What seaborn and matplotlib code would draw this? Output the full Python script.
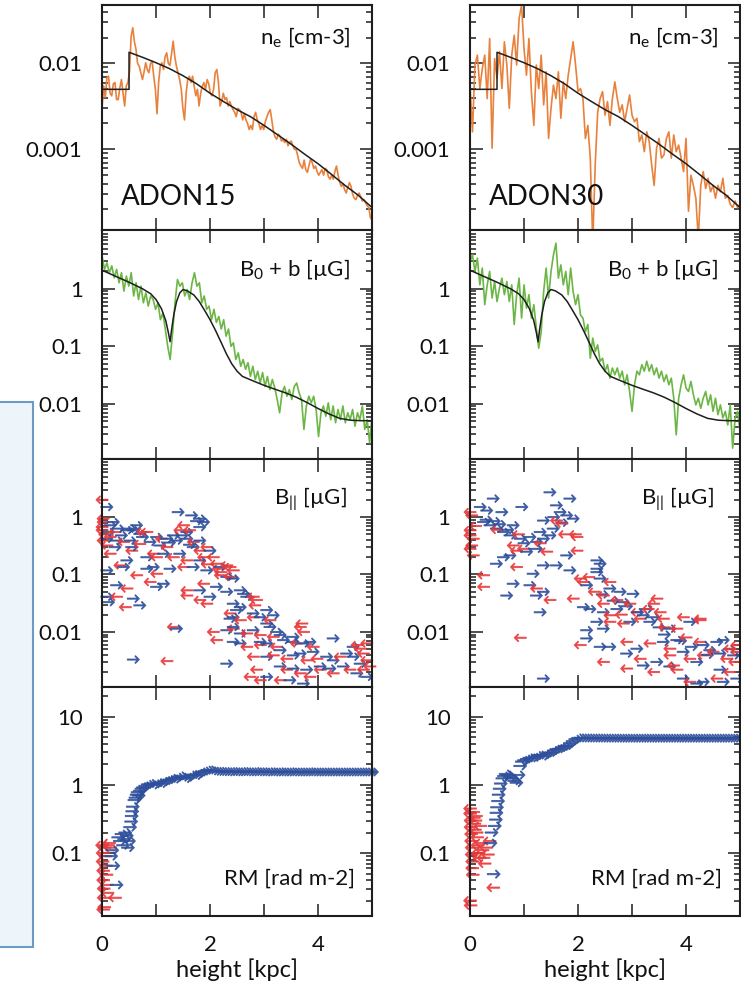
import numpy as np
import pandas as pd
import matplotlib
matplotlib.use("Agg")
import matplotlib.pyplot as plt
import seaborn as sns
from matplotlib.patches import Rectangle
from matplotlib.ticker import FixedLocator, FixedFormatter, LogLocator, NullFormatter, NullLocator

sns.set_theme(style="ticks")
plt.rcParams["font.family"] = ["Lato", "DejaVu Sans"]
plt.rcParams["mathtext.fontset"] = "custom"
plt.rcParams["mathtext.rm"] = "Lato"
plt.rcParams["mathtext.it"] = "Lato:italic"
plt.rcParams["mathtext.bf"] = "Lato:bold"

# ---------------------------------------------------------------- data
models = ["ADON15", "ADON30"]

# electron density along the height grid (cm^-3)
ne15 = [0.0030, 0.0055, 0.0040, 0.0068, 0.0071, 0.0045, 0.0042, 0.0058, 0.0060, 0.0038,
        0.0038, 0.0052, 0.0065, 0.0045, 0.0032, 0.0055, 0.0060, 0.0080, 0.0208, 0.0260,
        0.0180, 0.0146, 0.0100, 0.0093, 0.0078, 0.0065, 0.0080, 0.0102, 0.0085, 0.0078,
        0.0100, 0.0106, 0.0070, 0.0050, 0.0026, 0.0060, 0.0093, 0.0102, 0.0085, 0.0120,
        0.0133, 0.0100, 0.0095, 0.0130, 0.0182, 0.0120, 0.0093, 0.0078, 0.0065, 0.0050,
        0.0030, 0.0022, 0.0045, 0.0065, 0.0071, 0.0060, 0.0071, 0.0054, 0.0042, 0.0050,
        0.0032, 0.0045, 0.0054, 0.0060, 0.0050, 0.0065, 0.0058, 0.0045, 0.0042, 0.0050,
        0.0078, 0.0085, 0.0060, 0.0032, 0.0036, 0.0045, 0.0038, 0.0040, 0.0032, 0.0036,
        0.0032, 0.0029, 0.0027, 0.0024, 0.0030, 0.0029, 0.0027, 0.0022, 0.0026, 0.0022,
        0.0020, 0.0017, 0.0019, 0.0017, 0.0024, 0.0027, 0.0022, 0.0020, 0.0017, 0.0019,
        0.0017, 0.0021, 0.0024, 0.0027, 0.0029, 0.0022, 0.0016, 0.0014, 0.00131, 0.0015,
        0.00143, 0.00125, 0.0013, 0.0012, 0.00131, 0.00110, 0.0012, 0.00125, 0.0011, 0.0010,
        0.0010, 0.00085, 0.00070, 0.00064, 0.00060, 0.00075, 0.00058, 0.00054, 0.00065, 0.00077,
        0.00070, 0.00060, 0.00064, 0.00055, 0.00050, 0.00054, 0.00058, 0.00050, 0.00060, 0.00058,
        0.00048, 0.00045, 0.00050, 0.00045, 0.00055, 0.00064, 0.00050, 0.00041, 0.00037, 0.00040,
        0.00034, 0.00031, 0.00036, 0.00041, 0.00037, 0.00030, 0.00027, 0.00026, 0.00029, 0.00031,
        0.00028, 0.00025, 0.00026, 0.00024, 0.00022, 0.00021, 0.00016, 0.00015]

ne30 = [0.0056, 0.0016, 0.0096, 0.0125, 0.0051, 0.0087, 0.0125, 0.0039, 0.0195, 0.00103,
        0.0114, 0.0067, 0.0137, 0.0051, 0.0179, 0.0096, 0.0030, 0.0125, 0.0213, 0.0096,
        0.0334, 0.048, 0.0149, 0.0073, 0.0195, 0.0047, 0.0019, 0.0096, 0.0051, 0.0125,
        0.0033, 0.0080, 0.00134, 0.0030, 0.0056, 0.0039, 0.0080, 0.0023, 0.0061, 0.0039,
        0.0073, 0.0114, 0.0179, 0.0096, 0.0047, 0.0051, 0.0039, 0.00134, 0.0019, 0.00079,
        0.00008, 0.00066, 0.0027, 0.0039, 0.0047, 0.0025, 0.0036, 0.0019, 0.0039, 0.0061,
        0.0039, 0.0027, 0.0033, 0.0021, 0.0030, 0.0043, 0.0025, 0.0021, 0.0023, 0.00123,
        0.00147, 0.00094, 0.0016, 0.00123, 0.00066, 0.00038, 0.00103, 0.00134, 0.00079, 0.00086,
        0.00134, 0.0016, 0.00079, 0.00147, 0.00094, 0.00112, 0.00079, 0.00055, 0.00134, 0.00019,
        0.00050, 0.00038, 0.00027, 0.00009, 0.00038, 0.00055, 0.00035, 0.00046, 0.00032, 0.00038,
        0.00027, 0.00038, 0.00032, 0.00046, 0.00027, 0.00029, 0.00023, 0.00021, 0.00025, 0.00021,
        0.00023]

# smooth background density profile
ne_model_h = [0.0, 0.5, 0.5, 0.75, 1.0, 1.25, 1.5, 1.75, 2.0, 2.25, 2.5, 2.75, 3.0, 3.25,
              3.5, 3.75, 4.0, 4.25, 4.5, 4.75, 5.0]
ne_model = [0.005, 0.005, 0.0135, 0.0118, 0.0102, 0.0087, 0.0072, 0.0058, 0.0045, 0.0036,
            0.0029, 0.0024, 0.0019, 0.00148, 0.00115, 0.00088, 0.00068, 0.00051, 0.00038,
            0.00029, 0.00021]

# total field strength |B0 + b| (muG)
b15 = [3.7, 2.17, 2.83, 1.9, 2.5, 1.55, 2.17, 1.27, 1.9, 0.91, 1.66, 1.11, 1.9, 0.75, 1.27,
       0.65, 1.11, 0.57, 0.85, 0.50, 0.75, 0.65, 0.44, 0.57, 0.29, 0.38, 0.20, 0.10, 0.059, 0.17,
       0.57, 1.45, 1.11, 1.27, 0.75, 0.97, 0.65, 1.27, 1.9, 1.11, 1.27, 0.57, 0.75, 0.44, 0.50,
       0.29, 0.44, 0.26, 0.33, 0.20, 0.29, 0.15, 0.20, 0.10, 0.115, 0.059, 0.077, 0.045, 0.059,
       0.040, 0.052, 0.030, 0.045, 0.0265, 0.037, 0.023, 0.035, 0.020, 0.030, 0.0177, 0.0265,
       0.019, 0.0119, 0.0070, 0.0156, 0.020, 0.0136, 0.0177, 0.0119, 0.020, 0.023, 0.0156,
       0.0119, 0.0036, 0.0092, 0.0136, 0.0104, 0.0136, 0.0080, 0.0027, 0.0070, 0.0092, 0.0061,
       0.0104, 0.0053, 0.0092, 0.0047, 0.0080, 0.0053, 0.0092, 0.0047, 0.0070, 0.0053, 0.0080,
       0.0041, 0.0070, 0.0053, 0.0092, 0.0036, 0.0053, 0.0021, 0.0061]

b30 = [3.0, 3.9, 2.0, 3.4, 1.17, 2.29, 0.53, 1.17, 2.0, 0.69, 1.34, 0.60, 1.03, 1.53, 0.79,
       1.34, 0.60, 1.17, 0.24, 0.79, 1.53, 0.31, 1.17, 0.46, 0.79, 0.31, 0.53, 0.21, 0.093, 0.18,
       0.90, 2.29, 0.69, 2.0, 3.9, 6.2, 1.53, 2.6, 1.17, 2.0, 0.79, 2.29, 0.90, 0.53, 0.79,
       0.35, 0.31, 0.18, 0.24, 0.062, 0.139, 0.081, 0.106, 0.055, 0.062, 0.037, 0.048, 0.028,
       0.042, 0.032, 0.042, 0.028, 0.037, 0.0214, 0.032, 0.0164, 0.0074, 0.0214, 0.037, 0.032,
       0.048, 0.037, 0.055, 0.037, 0.048, 0.032, 0.042, 0.028, 0.037, 0.0245, 0.032, 0.0214,
       0.028, 0.0125, 0.0029, 0.0125, 0.0214, 0.032, 0.0188, 0.0164, 0.0245, 0.0144, 0.0096,
       0.0125, 0.0084, 0.0125, 0.0164, 0.0096, 0.0144, 0.0074, 0.0125, 0.0065, 0.0096, 0.0057,
       0.0074, 0.0043, 0.0096, 0.0017, 0.0057, 0.0074, 0.0033]

# smooth background field profile
b_model_h = [0.0, 0.25, 0.5, 0.75, 0.9, 1.0, 1.1, 1.18, 1.23, 1.26, 1.29, 1.33, 1.38, 1.44,
             1.5, 1.58, 1.7, 1.8, 1.9, 2.0, 2.1, 2.2, 2.3, 2.4, 2.5, 2.6, 2.8, 3.0, 3.2, 3.4,
             3.6, 3.8, 4.0, 4.2, 4.4, 4.6, 4.8, 5.0]
b_model = [2.1, 1.65, 1.3, 1.0, 0.82, 0.65, 0.45, 0.28, 0.17, 0.12, 0.2, 0.36, 0.6, 0.85,
           0.97, 0.92, 0.78, 0.6, 0.42, 0.29, 0.19, 0.12, 0.075, 0.05, 0.037, 0.030, 0.025,
           0.021, 0.018, 0.0155, 0.013, 0.0105, 0.0083, 0.0067, 0.0056, 0.0052, 0.0051, 0.0051]

# line-of-sight field (height kpc, signed B_par muG)
bpar15 = [(0.00, -2.0), (0.02, -0.94), (0.02, -0.82), (0.00, -0.67), (0.00, -0.59), (0.24, -0.55),
          (0.40, -0.37), (0.70, -0.34), (0.83, -0.55), (1.20, -0.30), (1.44, -0.59), (1.51, -0.72),
          (1.69, -0.37), (1.94, -0.30), (1.81, -0.26), (0.09, -0.32), (0.02, -0.39), (0.15, -0.23),
          (0.95, -0.23), (1.01, -0.20), (1.32, -0.20), (1.57, -0.176), (2.12, -0.154), (2.31, -0.144),
          (2.37, -0.135), (2.43, -0.118), (2.06, -0.20), (0.33, -0.144), (0.64, -0.097), (1.01, -0.103),
          (1.51, -0.135), (2.19, -0.097), (2.37, -0.091), (0.46, -0.057), (0.89, -0.074), (1.57, -0.053),
          (1.88, -0.069), (0.27, -0.041), (0.43, -0.027), (1.57, -0.043), (1.81, -0.036), (1.94, -0.031),
          (2.80, -0.041), (2.86, -0.036), (2.83, -0.029), (2.37, -0.021), (2.56, -0.016), (2.80, -0.018),
          (3.11, -0.016), (1.32, -0.0122), (2.06, -0.010), (2.43, -0.0114), (2.68, -0.0094),
          (2.93, -0.0088), (3.17, -0.0082), (3.67, -0.0122), (3.73, -0.010), (3.70, -0.014),
          (2.12, -0.0072), (2.68, -0.0055), (2.93, -0.0059), (3.23, -0.0055), (3.60, -0.0063),
          (3.91, -0.0055), (4.72, -0.0059), (4.78, -0.0051), (4.90, -0.0063), (1.20, -0.0031),
          (2.80, -0.0037), (3.17, -0.0039), (3.42, -0.0034), (3.79, -0.0032), (3.98, -0.0034),
          (4.41, -0.0037), (4.84, -0.0042), (4.90, -0.0032), (3.42, -0.0022), (3.67, -0.0019),
          (3.85, -0.00165), (4.04, -0.0022), (4.28, -0.0019), (4.59, -0.0022), (4.84, -0.0022),
          (2.74, -0.00165), (2.93, -0.00144), (3.30, -0.00144), (2.86, -0.0022), (4.96, -0.0025),
          (0.05, -0.5), (0.15, -0.45), (0.55, -0.26), (0.75, -0.55), (1.10, -0.42), (1.62, -0.59),
          (1.88, -0.20), (1.95, -0.15), (2.15, -0.126), (2.20, -0.11),
          (0.09, 1.5), (0.21, 0.82), (0.64, 0.72), (0.15, 0.72), (0.30, 0.63), (0.46, 0.59),
          (0.58, 0.59), (0.70, 0.51), (1.01, 0.45), (1.32, 0.48), (1.57, 0.55), (1.81, 0.67),
          (1.88, 0.82), (1.41, 1.22), (1.66, 1.07), (1.81, 0.94), (0.09, 0.42), (0.27, 0.39),
          (0.52, 0.39), (0.89, 0.37), (1.07, 0.32), (1.38, 0.39), (1.57, 0.42), (1.81, 0.39),
          (2.00, 0.26), (1.69, 0.30), (0.24, 0.30), (0.83, 0.20), (1.14, 0.23), (1.44, 0.23),
          (1.81, 0.176), (2.19, 0.135), (0.46, 0.176), (0.09, 0.118), (0.40, 0.135), (0.83, 0.126),
          (0.95, 0.135), (1.26, 0.126), (1.69, 0.135), (1.94, 0.118), (2.31, 0.091), (2.43, 0.085),
          (0.27, 0.065), (1.01, 0.061), (1.14, 0.069), (1.81, 0.053), (2.12, 0.061), (2.56, 0.053),
          (2.62, 0.046), (0.09, 0.041), (0.12, 0.033), (0.58, 0.038), (0.70, 0.029), (2.00, 0.041),
          (2.56, 0.027), (2.43, 0.031), (2.68, 0.041), (2.31, 0.050), (2.49, 0.024), (2.43, 0.018),
          (2.80, 0.021), (3.05, 0.024), (2.93, 0.018), (3.17, 0.0195), (3.05, 0.014), (2.37, 0.017),
          (1.38, 0.0114), (2.31, 0.0107), (2.43, 0.0122), (2.56, 0.0094), (2.80, 0.0107),
          (3.11, 0.0122), (3.23, 0.010), (3.30, 0.0088), (3.54, 0.0082), (2.43, 0.0067),
          (2.56, 0.0063), (2.93, 0.0067), (3.05, 0.0063), (3.36, 0.0072), (3.54, 0.0067),
          (3.73, 0.0063), (3.85, 0.0067), (4.28, 0.0077), (4.65, 0.0055), (0.58, 0.0033),
          (2.31, 0.0028), (3.05, 0.0037), (3.30, 0.0048), (3.54, 0.0039), (3.67, 0.0042),
          (3.91, 0.0045), (4.16, 0.0037), (4.28, 0.0032), (4.53, 0.0042), (4.65, 0.0037),
          (4.78, 0.0028), (3.30, 0.0025), (3.54, 0.0023), (3.79, 0.0022), (4.04, 0.0025),
          (4.22, 0.0023), (4.47, 0.0025), (4.72, 0.0019), (4.90, 0.00165), (3.05, 0.00165),
          (3.48, 0.00144), (3.73, 0.00126), (0.12, 0.55), (0.36, 0.48), (0.52, 0.63), (0.75, 0.45),
          (0.55, 0.30), (1.20, 0.42), (1.48, 0.48), (1.62, 0.33), (1.75, 0.85), (1.25, 0.36)]

bpar30 = [(1.48, 2.7), (1.85, 2.1), (0.43, 2.1), (1.60, 1.6), (0.96, 1.5), (0.19, 1.5), (0.31, 1.3),
          (0.59, 1.22), (1.67, 1.22), (1.79, 1.07), (1.91, 0.94), (1.36, 0.87), (1.54, 0.63),
          (0.25, 0.82), (0.37, 0.72), (0.49, 0.63), (0.62, 0.55), (0.74, 0.48), (0.80, 0.72),
          (0.93, 0.42), (1.11, 0.45), (1.23, 0.37), (1.36, 0.42), (1.48, 0.48), (0.62, 0.20),
          (0.49, 0.154), (0.74, 0.215), (1.05, 0.25), (1.23, 0.28), (1.79, 0.215), (1.60, 0.144),
          (2.35, 0.176), (2.41, 0.154), (2.35, 0.126), (1.17, 0.103), (1.36, 0.144), (1.85, 0.118),
          (2.35, 0.11), (2.41, 0.085), (0.80, 0.069), (1.11, 0.065), (0.68, 0.043), (1.36, 0.050),
          (1.23, 0.043), (2.59, 0.057), (2.78, 0.050), (3.02, 0.046), (2.16, 0.065), (2.10, 0.027),
          (2.22, 0.025), (2.47, 0.022), (2.72, 0.025), (3.21, 0.0195), (3.27, 0.025), (2.84, 0.033),
          (1.30, 0.022), (2.35, 0.015), (2.47, 0.0114), (2.96, 0.015), (3.33, 0.015), (3.70, 0.0114),
          (4.07, 0.015), (2.16, 0.0107), (2.16, 0.0077), (2.41, 0.0055), (2.59, 0.0055), (3.09, 0.0051),
          (3.58, 0.0067), (3.83, 0.0072), (4.32, 0.0059), (4.57, 0.0067), (4.69, 0.0072), (2.90, 0.0042),
          (3.46, 0.0030), (3.95, 0.0045), (4.20, 0.0030), (4.44, 0.0048), (4.63, 0.0042), (4.88, 0.0039),
          (3.21, 0.0026), (3.70, 0.0025), (3.95, 0.00154), (4.20, 0.00126), (4.32, 0.00135),
          (4.63, 0.0022), (4.94, 0.00154), (1.36, 0.00154), (4.69, 0.00135), (0.30, 0.90), (0.45, 0.85),
          (0.55, 0.75), (0.70, 0.60), (1.00, 0.35), (1.30, 0.55), (1.55, 1.00), (1.70, 0.80),
          (2.45, 0.045), (2.65, 0.035), (2.90, 0.028), (3.10, 0.022), (3.40, 0.018), (3.50, 0.012),
          (3.60, 0.009), (3.90, 0.007), (4.10, 0.0055), (4.40, 0.004), (4.80, 0.005),
          (0.00, -1.22), (0.03, -1.07), (1.60, -0.87), (1.70, -0.77), (0.00, -0.59), (0.00, -0.48),
          (0.06, -0.42), (0.03, -0.32), (0.00, -0.28), (0.06, -0.215), (0.80, -0.32), (0.99, -0.28),
          (0.86, -0.26), (1.95, -0.50), (1.98, -0.45), (1.42, -0.25), (1.98, -0.26), (0.25, -0.097),
          (0.86, -0.135), (2.04, -0.085), (2.10, -0.074), (2.59, -0.074), (0.25, -0.061), (1.23, -0.057),
          (1.48, -0.036), (1.91, -0.038), (2.47, -0.043), (2.47, -0.031), (2.59, -0.0195), (2.96, -0.031),
          (3.09, -0.022), (3.46, -0.038), (3.40, -0.031), (3.52, -0.022), (2.72, -0.036), (2.59, -0.015),
          (2.84, -0.014), (3.15, -0.017), (3.58, -0.017), (3.83, -0.0114), (3.95, -0.018), (4.26, -0.017),
          (4.26, -0.016), (2.04, -0.0059), (2.90, -0.0067), (3.33, -0.0063), (3.70, -0.0051),
          (4.26, -0.0067), (4.81, -0.0051), (4.94, -0.0059), (0.93, -0.0079), (2.47, -0.0030),
          (3.15, -0.0034), (3.70, -0.0039), (4.07, -0.0034), (4.32, -0.0039), (4.75, -0.0034),
          (4.94, -0.0045), (2.90, -0.0023), (3.40, -0.0020), (3.83, -0.0022), (4.07, -0.00135),
          (4.57, -0.00154), (4.81, -0.0020), (3.77, -0.0026), (2.20, -0.09), (2.30, -0.05),
          (2.80, -0.02), (3.30, -0.025), (3.60, -0.012), (4.00, -0.008), (4.50, -0.0045),
          (4.90, -0.003), (0.10, -0.7), (0.50, -0.6), (0.90, -0.5), (1.30, -0.35), (1.75, -0.5)]

# cumulative rotation measure (height kpc, signed RM rad m^-2)
rm15 = [(0.00, -0.13), (0.01, -0.10), (0.01, -0.075), (0.02, -0.055), (0.02, -0.040), (0.03, -0.030),
        (0.03, -0.022), (0.04, -0.016), (0.02, -0.0148), (0.05, -0.12), (0.06, -0.09), (0.07, -0.065),
        (0.08, -0.048), (0.09, -0.034), (0.10, -0.026), (0.11, -0.13), (0.13, -0.14), (0.15, -0.12),
        (0.17, 0.09), (0.19, 0.11), (0.21, 0.065), (0.24, -0.022), (0.27, 0.034), (0.30, 0.17),
        (0.33, 0.15), (0.36, 0.19), (0.39, 0.13), (0.41, 0.16), (0.43, 0.20), (0.46, 0.18),
        (0.48, 0.12), (0.50, 0.15), (0.52, 0.24), (0.54, 0.29), (0.55, 0.35), (0.56, 0.41),
        (0.57, 0.48), (0.60, 0.60), (0.62, 0.65), (0.64, 0.72), (0.66, 0.78), (0.68, 0.70),
        (0.70, 0.82), (0.73, 0.88), (0.76, 0.92), (0.80, 0.97), (0.85, 1.02), (0.90, 1.05),
        (0.95, 1.00), (1.00, 1.04), (1.05, 1.08), (1.10, 1.05), (1.15, 1.12), (1.20, 1.16),
        (1.25, 1.20), (1.30, 1.25), (1.35, 1.22), (1.40, 1.30), (1.45, 1.36), (1.50, 1.30),
        (1.55, 1.24), (1.60, 1.30), (1.65, 1.40), (1.70, 1.42), (1.75, 1.38), (1.80, 1.48),
        (1.85, 1.55), (1.90, 1.60), (1.95, 1.65), (2.00, 1.66), (2.05, 1.61), (2.10, 1.59),
        (2.15, 1.58), (2.20, 1.58), (2.25, 1.57), (2.30, 1.57), (2.35, 1.56), (2.40, 1.57),
        (2.45, 1.57), (2.50, 1.56), (2.55, 1.56), (2.60, 1.57), (2.65, 1.57), (2.70, 1.56),
        (2.75, 1.56), (2.80, 1.56), (2.85, 1.57), (2.90, 1.56), (2.95, 1.56), (3.00, 1.56),
        (3.05, 1.55), (3.10, 1.56), (3.15, 1.56), (3.20, 1.55), (3.25, 1.55), (3.30, 1.56),
        (3.35, 1.55), (3.40, 1.55), (3.45, 1.55), (3.50, 1.56), (3.55, 1.55), (3.60, 1.55),
        (3.65, 1.55), (3.70, 1.55), (3.75, 1.55), (3.80, 1.55), (3.85, 1.56), (3.90, 1.55),
        (3.95, 1.55), (4.00, 1.55), (4.05, 1.55), (4.10, 1.55), (4.15, 1.55), (4.20, 1.55),
        (4.25, 1.55), (4.30, 1.55), (4.35, 1.55), (4.40, 1.55), (4.45, 1.55), (4.50, 1.55),
        (4.55, 1.55), (4.60, 1.55), (4.65, 1.55), (4.70, 1.55), (4.75, 1.55), (4.80, 1.55),
        (4.85, 1.55), (4.90, 1.55), (4.95, 1.55), (5.00, 1.55)]

rm30 = [(0.00, -0.45), (0.00, -0.38), (0.01, -0.30), (0.01, -0.24), (0.02, -0.19), (0.02, -0.15),
        (0.03, -0.12), (0.03, -0.095), (0.04, -0.075), (0.04, -0.06), (0.05, -0.048), (0.00, -0.020),
        (0.01, -0.017), (0.06, -0.40), (0.07, -0.33), (0.08, -0.27), (0.09, -0.22), (0.10, -0.30),
        (0.11, -0.35), (0.12, -0.20), (0.13, -0.17), (0.14, -0.13), (0.15, -0.10), (0.17, -0.085),
        (0.19, -0.25), (0.21, -0.14), (0.23, -0.11), (0.25, -0.085), (0.27, -0.07), (0.30, -0.12),
        (0.33, -0.095), (0.36, -0.15), (0.38, 0.14), (0.40, 0.20), (0.43, -0.031), (0.44, 0.049),
        (0.46, 0.25), (0.48, 0.31), (0.49, 0.39), (0.50, 0.47), (0.52, 0.58), (0.53, 0.72),
        (0.55, 0.88), (0.57, 1.05), (0.60, 1.25), (0.63, 1.35), (0.66, 1.45), (0.70, 1.40),
        (0.74, 1.30), (0.78, 1.25), (0.82, 1.15), (0.86, 1.08), (0.90, 1.40), (0.93, 1.90),
        (0.96, 2.20), (1.00, 2.30), (1.05, 2.40), (1.10, 2.50), (1.15, 2.50), (1.20, 2.55),
        (1.25, 2.70), (1.30, 2.75), (1.35, 2.65), (1.40, 2.80), (1.45, 2.95), (1.50, 3.00),
        (1.55, 3.20), (1.60, 3.35), (1.65, 3.40), (1.70, 3.55), (1.75, 3.70), (1.80, 3.80),
        (1.85, 4.10), (1.90, 4.40), (1.95, 4.70), (2.00, 4.90), (2.05, 4.90), (2.10, 4.89),
        (2.15, 4.89), (2.20, 4.89), (2.25, 4.88), (2.30, 4.88), (2.35, 4.88), (2.40, 4.88),
        (2.45, 4.87), (2.50, 4.87), (2.55, 4.87), (2.60, 4.87), (2.65, 4.87), (2.70, 4.87),
        (2.75, 4.86), (2.80, 4.86), (2.85, 4.86), (2.90, 4.86), (2.95, 4.86), (3.00, 4.86),
        (3.05, 4.86), (3.10, 4.86), (3.15, 4.86), (3.20, 4.86), (3.25, 4.86), (3.30, 4.86),
        (3.35, 4.86), (3.40, 4.86), (3.45, 4.86), (3.50, 4.86), (3.55, 4.86), (3.60, 4.86),
        (3.65, 4.86), (3.70, 4.86), (3.75, 4.86), (3.80, 4.86), (3.85, 4.86), (3.90, 4.86),
        (3.95, 4.86), (4.00, 4.86), (4.05, 4.86), (4.10, 4.86), (4.15, 4.86), (4.20, 4.86),
        (4.25, 4.86), (4.30, 4.86), (4.35, 4.86), (4.40, 4.86), (4.45, 4.86), (4.50, 4.86),
        (4.55, 4.86), (4.60, 4.86), (4.65, 4.86), (4.70, 4.86), (4.75, 4.86), (4.80, 4.86),
        (4.85, 4.86), (4.90, 4.86), (4.95, 4.86), (5.00, 4.86)]

# axis ranges and labelled decades per row
y_limits = [(1.15e-4, 0.048), (1.1e-3, 10.5), (1.1e-3, 10.3), (0.0119, 27.5)]
y_ticks = [[0.001, 0.01], [0.01, 0.1, 1], [0.01, 0.1, 1], [0.1, 1, 10]]
y_ticklabels = [["0.001", "0.01"], ["0.01", "0.1", "1"], ["0.01", "0.1", "1"], ["0.1", "1", "10"]]
x_ticks = [0, 1, 2, 3, 4, 5]
x_ticklabels = ["0", "", "2", "", "4", ""]
row_titles = ["n$_{\\mathrm{e}}$ [cm-3]", "B$_{\\mathrm{0}}$ + b [\u00b5G]",
              "B$_{\\mathrm{||}}$ [\u00b5G]", "RM [rad m-2]"]

ORANGE = "#e8813c"
GREEN = "#6cb646"
BLUE = "#2e4f9b"
RED = "#e83a3c"
INK = "#1e1e1e"

# ---------------------------------------------------------------- layout
fig = plt.figure(figsize=(7.41, 9.94), dpi=100)
fig.patch.set_facecolor("white")
fig.add_artist(Rectangle((-0.01, 0.0473), 0.0547, 0.5483, transform=fig.transFigure,
                         facecolor="#edf5fb", edgecolor="#6e9bc3", linewidth=1.5, zorder=0))

col_left = [0.1377, 0.6343]
col_width = 0.3644
row_bottom = [0.7686, 0.5382, 0.3089, 0.0785]
row_height = [0.2264, 0.2304, 0.2294, 0.2304]


def draw_arrows(ax, pairs, size):
    df = pd.DataFrame(pairs, columns=["h", "B"])
    df["sense"] = np.where(df["B"] > 0, "up", "down")
    df["absB"] = df["B"].abs()
    df = df.sort_values("h", kind="stable")
    sns.scatterplot(data=df, x="h", y="absB", hue="sense", style="sense",
                    palette={"up": BLUE, "down": RED},
                    markers={"up": r"$\rightarrow$", "down": r"$\leftarrow$"},
                    s=size, linewidth=0.7, edgecolor="face", alpha=0.8,
                    legend=False, ax=ax, clip_on=False)


ne_series = [ne15, ne30]
b_series = [b15, b30]
bpar_series = [bpar15, bpar30]
rm_series = [rm15, rm30]

for c in range(2):
    for r in range(4):
        ax = fig.add_axes([col_left[c], row_bottom[r], col_width, row_height[r]])
        ax.set_yscale("log")
        if r == 0:
            vals = ne_series[c]
            sns.lineplot(x=np.linspace(0, 5, len(vals)), y=vals, ax=ax, color=ORANGE,
                         linewidth=1.2, estimator=None, sort=False)
            sns.lineplot(x=ne_model_h, y=ne_model, ax=ax, color=INK, linewidth=1.1,
                         estimator=None, sort=False)
            ax.text(0.07, 0.145, models[c], transform=ax.transAxes, fontsize=20,
                    ha="left", va="center", color="#111")
        elif r == 1:
            vals = b_series[c]
            sns.lineplot(x=np.linspace(0, 5, len(vals)), y=vals, ax=ax, color=GREEN,
                         linewidth=1.2, estimator=None, sort=False)
            sns.lineplot(x=b_model_h, y=b_model, ax=ax, color=INK, linewidth=1.1,
                         estimator=None, sort=False)
        elif r == 2:
            draw_arrows(ax, bpar_series[c], 75)
        else:
            draw_arrows(ax, rm_series[c], 85)

        ax.set_xlim(0, 5)
        ax.set_ylim(*y_limits[r])
        ax.set_xlabel("")
        ax.set_ylabel("")

        ax.yaxis.set_major_locator(FixedLocator(y_ticks[r]))
        ax.yaxis.set_major_formatter(FixedFormatter(y_ticklabels[r]))
        ax.yaxis.set_minor_locator(LogLocator(base=10, subs=np.arange(2, 10), numticks=50))
        ax.yaxis.set_minor_formatter(NullFormatter())
        ax.set_xticks(x_ticks)
        ax.xaxis.set_minor_locator(NullLocator())
        if r == 3:
            ax.set_xticklabels(x_ticklabels)
            ax.set_xlabel("height [kpc]", fontsize=17, labelpad=2, color="#111")
        else:
            ax.tick_params(axis="x", labelbottom=False)

        ax.tick_params(which="both", direction="in", top=True, right=True,
                       color=INK, width=1.1, labelcolor="#111")
        ax.tick_params(which="major", length=9, pad=14, labelsize=16)
        ax.tick_params(which="minor", length=4.5)
        for sp in ax.spines.values():
            sp.set_linewidth(1.5)
            sp.set_color(INK)
            sp.set_visible(True)

        tx = [0.92, 0.918, 0.905, 0.935][r]
        ty = [0.855, 0.828, 0.825, 0.162][r]
        ax.text(tx, ty, row_titles[r], transform=ax.transAxes, fontsize=16,
                ha="right", va="center", color="#111")

fig.savefig("out.png", dpi=100, facecolor="white")
